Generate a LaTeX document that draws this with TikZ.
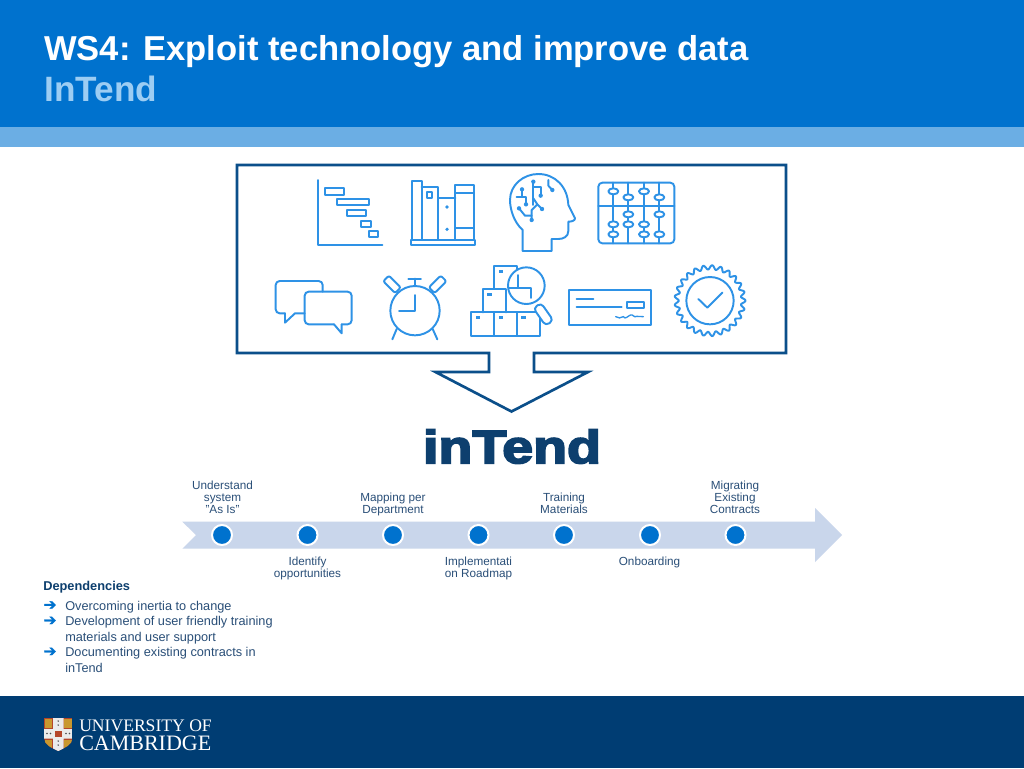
\documentclass[tikz,border=0pt]{standalone}
\usepackage{fontspec}
\setmainfont{Liberation Sans}
\newfontfamily\uniserif{Liberation Serif}
\newfontfamily\logofont[FakeBold=3.6]{Liberation Sans Bold}
\newfontfamily\symfont[FakeBold=1.5]{DejaVu Sans}
\definecolor{headblue}{HTML}{0072CE}
\definecolor{bandblue}{HTML}{6BAEE4}
\definecolor{navy}{HTML}{003D73}
\definecolor{framec}{HTML}{0B4F8A}
\definecolor{iconc}{HTML}{2E92E6}
\definecolor{tlband}{HTML}{C9D6EB}
\definecolor{tltext}{HTML}{2A4F78}
\definecolor{logoc}{HTML}{0D3F6E}
\definecolor{lightT}{HTML}{9CCDF3}
\definecolor{shred}{HTML}{B5452A}
\definecolor{shgold}{HTML}{C9982F}
\tikzset{
  ico/.style={draw=iconc,line width=1.45pt,line join=round,line cap=round},
  tlabel/.style={font=\fontsize{8.8}{9}\selectfont,text=tltext,align=center,inner sep=0pt},
  deptext/.style={font=\fontsize{9.55}{11.5}\selectfont,text=tltext,align=left,inner sep=0pt},
  dot/.style={circle,fill=headblue,draw=white,line width=1.5pt,minimum size=15pt,inner sep=0pt}
}
\begin{document}
\begin{tikzpicture}[x=0.75pt,y=-0.75pt]
\useasboundingbox (0,0) rectangle (1024,768);
\fill[white] (0,0) rectangle (1024,768);
\fill[headblue] (0,0) rectangle (1024,127);
\fill[bandblue] (0,127) rectangle (1024,147);
\fill[navy] (0,696) rectangle (1024,768);
\node[anchor=base west,inner sep=0pt,text=white,font=\fontsize{25.93}{26}\selectfont\bfseries] (title) at (44,60) {WS4: Exploit technology and improve data};
\node[anchor=base west,inner sep=0pt,text=lightT,font=\fontsize{26.4}{26}\selectfont\bfseries] (subtitle) at (44,101) {InTend};

% frame with arrow
\draw[framec,line width=2pt,line join=miter] (237,165) -- (786,165) -- (786,353) -- (534,353) -- (534,372) -- (588,372) -- (511.5,411.5) -- (435.5,372) -- (489,372) -- (489,353) -- (237,353) -- cycle;

% icons first crop
\begin{scope}[shift={(230,155)},x=0.25pt,y=-0.25pt]
 % gantt
 \draw[ico] (263,75) -- (263,270) -- (457,270);
 \draw[ico] (285,100) rectangle (343,119);
 \draw[ico] (321,133) rectangle (418,151);
 \draw[ico] (350,165) rectangle (409,183);
 \draw[ico] (393,197) rectangle (424,215);
 \draw[ico] (417,229) rectangle (444,247);
 % books
 \draw[ico] (542,254) rectangle (736,270);
 \draw[ico] (546,254) -- (546,78) -- (575,78) -- (575,254);
 \draw[ico] (575,95) -- (625,95) -- (625,254);
 \draw[ico] (590,112) rectangle (607,128);
 \draw[ico] (625,130) -- (676,130);
 \fill[iconc] (651,156) circle (5.5) (651,223) circle (5.5);
 \draw[ico] (676,254) -- (676,89) -- (732,89) -- (732,254);
 \draw[ico] (676,115) -- (732,115) (676,220) -- (732,220);
 % chat
 \draw[ico,rounded corners=3pt] (278,410) -- (278,378) -- (137,378) -- (137,475) -- (165,475);
 \draw[ico] (165,475) -- (165,503) -- (195,475) -- (224,475);
 \draw[ico,rounded corners=3pt] (312,508) -- (224,508) -- (224,410) -- (365,410) -- (365,508) -- (335,508);
 \draw[ico] (312,508) -- (335,535) -- (335,508);
 % clock
 \draw[ico] (555,467) circle (74);
 \draw[ico] (555,420) -- (555,467) -- (507,467);
 \draw[ico] (555,371) -- (555,393) (535,371) -- (573,371);
 \draw[ico,rounded corners=1.5pt,rotate around={-45:(486,388)}] (461,376) rectangle (511,400);
 \draw[ico,rounded corners=1.5pt,rotate around={45:(623,388)}] (598,376) rectangle (648,400);
 \draw[ico] (500,522) -- (487,553) (608,522) -- (622,553);
\end{scope}

% icons second crop
\begin{scope}[shift={(500,155)},x=0.25pt,y=-0.25pt]
 % head
 \draw[ico] (68,288) -- (68,225) .. controls (40,200) and (30,160) .. (30,135)
   .. controls (30,90) and (70,57) .. (115,57) .. controls (165,57) and (203,95) .. (205,150)
   -- (225,190) .. controls (225,197) and (215,200) .. (205,200) -- (205,228)
   .. controls (205,245) and (190,252) .. (175,252) -- (155,252) -- (155,288) -- cycle;
 % circuit
 \draw[ico] (66,103) -- (66,125) -- (50,125) (66,125) -- (78,125) -- (78,148);
 \draw[ico] (100,80) -- (100,150) (100,95) -- (122,95) -- (122,122);
 \draw[ico] (145,75) -- (145,92) -- (157,105);
 \draw[ico] (57,160) -- (75,182) -- (95,182) -- (95,195);
 \draw[ico] (95,182) -- (95,165) -- (112,148) -- (126,162) (100,130) -- (112,148);
 \foreach \p in {(66,103),(100,80),(122,122),(157,105),(78,148),(57,160),(126,162),(95,195)} \fill[iconc] \p circle (6.5);
 % abacus
 \draw[ico,rounded corners=3pt] (295,83) rectangle (523,265);
 \draw[ico] (295,153) -- (523,153);
 \foreach \x in {340,385,432,478} \draw[ico] (\x,83) -- (\x,265);
 \foreach \p in {(340,109),(385,127),(432,109),(478,127),(385,178),(478,178),(340,208),(385,208),(432,208),(340,238),(432,238),(478,238)}
   \draw[ico,fill=white] \p ellipse (15 and 9);
 % cheque
 \draw[ico] (207,404) rectangle (454,511);
 \draw[ico] (230,433) -- (280,433) (230,457) -- (365,457);
 \draw[ico] (380,441) rectangle (431,458);
 \draw[iconc,line width=1pt,line cap=round] (347,485) .. controls (355,490) and (362,490) .. (370,485) .. controls (376,495) and (384,482) .. (392,480) .. controls (398,476) and (403,490) .. (410,484) -- (430,485);
 % badge
 \draw[ico] plot[samples=289,domain=0:360,variable=\t] ({630+(100+6.5*cos(\t*25))*cos(\t)},{437+(100+6.5*cos(\t*25))*sin(\t)}) -- cycle;
 \draw[ico] (630,437) circle (71);
 \draw[ico] (595,432) -- (622,458) -- (667,413);
\end{scope}

% boxes and magnifier
\begin{scope}[shift={(460,255)},x=0.25pt,y=-0.25pt]
 \draw[ico] (33,172) rectangle (102,242);
 \draw[ico] (102,172) rectangle (170,242);
 \draw[ico] (170,172) rectangle (240,242);
 \draw[ico] (68,172) -- (68,102) -- (138,102) -- (138,172);
 \draw[ico] (102,102) -- (102,32) -- (170,32) -- (170,102);
 \foreach \p in {(48,184),(116,184),(184,184),(82,114),(116,45)} \fill[iconc] \p rectangle ++(13,9);
 \draw[ico,fill=white] (199,92) circle (55);
 \draw[ico] (174,60) -- (174,100) -- (212,100) -- (212,129) (147,100) -- (174,100);
 \draw[ico,fill=white,rounded corners=3pt,rotate around={35:(250,178)}] (236,146) rectangle (264,210);
\end{scope}

% logo
\node[inner sep=0pt,text=logoc,xscale=1.19,font=\fontsize{35}{36}\selectfont\logofont] (logo) at (512,446.5) {inTend};

% timeline
\fill[tlband] (182.3,521.7) -- (815,521.7) -- (815,508) -- (842,535) -- (815,562) -- (815,548.7) -- (182.3,548.7) -- (196,535) -- cycle;
\foreach \i/\x in {1/222,2/307.5,3/393,4/478.5,5/564,6/650,7/735.5} \node[dot] (d\i) at (\x,535) {};
\node[tlabel] (t1) at (222.5,497) {Understand\\system\\"As Is"};
\node[tlabel] (t2) at (307.5,568.5) {Identify\\opportunities};
\node[tlabel] (t3) at (393,504) {Mapping per\\Department};
\node[tlabel] (t4) at (478.5,568.5) {Implementati\\on Roadmap};
\node[tlabel] (t5) at (564,503.5) {Training\\Materials};
\node[tlabel] (t6) at (649.5,562) {Onboarding};
\node[tlabel] (t7) at (735,497.5) {Migrating\\Existing\\Contracts};

% dependencies
\node[anchor=base west,inner sep=0pt,text=logoc,font=\fontsize{9.6}{11}\selectfont\bfseries] (dep) at (43,590) {Dependencies};
\foreach \n/\y in {a/605.5,b/621,c/652} \node[inner sep=0pt,text=headblue,font=\fontsize{11.5}{12}\selectfont\symfont] (ar\n) at (50,\y) {➔};
\node[deptext,anchor=base west] (da) at (65,610) {Overcoming inertia to change};
\node[deptext,anchor=base west] (db) at (65,625.5) {Development of user friendly training};
\node[deptext,anchor=base west] (db2) at (65,641) {materials and user support};
\node[deptext,anchor=base west] (dc) at (65,656.5) {Documenting existing contracts in};
\node[deptext,anchor=base west] (dc2) at (65,672) {inTend};

% shield
\path[save path=\shieldp] (44,718) -- (72.5,718) -- (72.5,738) .. controls (72.5,745) and (64,748) .. (58.3,751) .. controls (52,748) and (44,745) .. (44,738) -- cycle;
\begin{scope}
  \clip[use path=\shieldp];
  \fill[shred] (44,718) rectangle (72.5,751);
  \fill[white!92!black] (53,718) rectangle (63.5,751) (44,729) rectangle (72.5,738.5);
  \fill[shred] (55,730.5) rectangle (61.5,737);
  \foreach \p in {(44.9,719),(64.3,719)} \fill[shgold] \p rectangle ++(7.4,9);
  \foreach \p in {(44.9,739.5),(64.3,739.5)} \fill[shgold] \p rectangle ++(7.4,8);
  \foreach \p in {(58.2,721),(58.2,725),(58.2,741),(58.2,745),(47,733.5),(50.5,733.5),(66,733.5),(69.5,733.5)} \fill[black!70] \p circle (0.8);
\end{scope}
\node[anchor=base west,inner sep=0pt,text=white,font=\fontsize{13.2}{15}\selectfont\uniserif] (u1) at (79,731) {UNIVERSITY OF};
\node[anchor=base west,inner sep=0pt,text=white,font=\fontsize{16.5}{18}\selectfont\uniserif] (u2) at (79,750) {CAMBRIDGE};
\end{tikzpicture}
\end{document}
